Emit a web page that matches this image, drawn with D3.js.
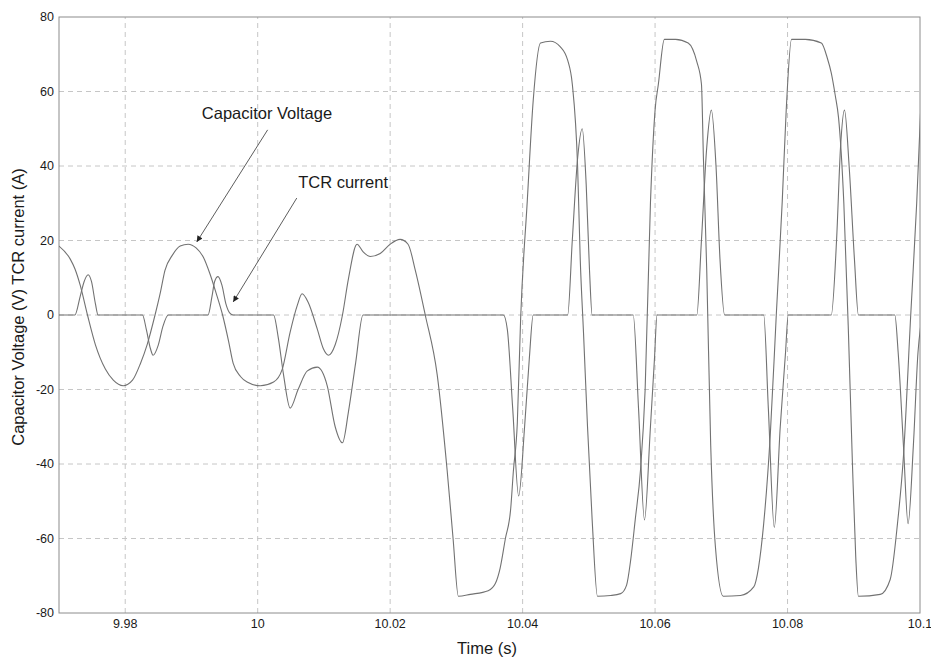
<!DOCTYPE html>
<meta charset="utf-8">
<head>
<style>
 body { margin: 0; background: #fff; }
 svg text { font-family: "Liberation Sans", Arial, sans-serif; fill: #1a1a1a; }
 .grid line { stroke: #c6c6c6; stroke-width: 1px; stroke-dasharray: 5,4; }
 .frame { fill: none; stroke: #8c8c8c; stroke-width: 1px; }
 .trace { fill: none; stroke: #727272; stroke-width: 1.1px; }
 .tick-label { font-size: 12.5px; }
 .axis-title { font-size: 16.5px; }
 .note { font-size: 16.5px; }
 .pointer { stroke: #333; stroke-width: 0.8px; }
</style>
</head>
<body>
<svg width="931" height="657"></svg>
<script src="https://d3js.org/d3.v7.min.js"></script>
<script>
  // capacitor voltage (V)
  var timeV = [9.9700, 9.9717, 9.9724, 9.9732, 9.9743, 9.9755, 9.9770, 9.9782, 9.9797, 9.9811,
    9.9823, 9.9833, 9.9845, 9.9853, 9.9860, 9.9871, 9.9883, 9.9895, 9.9907, 9.9918,
    9.9928, 9.9937, 9.9947, 9.9956, 9.9963, 9.9974, 9.9984, 10.0004, 10.0024, 10.0037,
    10.0049, 10.0060, 10.0067, 10.0076, 10.0090, 10.0099, 10.0107, 10.0117, 10.0128, 10.0137,
    10.0150, 10.0159, 10.0170, 10.0185, 10.0200, 10.0215, 10.0227, 10.0238, 10.0253, 10.0271,
    10.0286, 10.0295, 10.0303, 10.0321, 10.0348, 10.0359, 10.0366, 10.0374, 10.0382, 10.0386,
    10.0392, 10.0397, 10.0407, 10.0416, 10.0427, 10.0442, 10.0457, 10.0468, 10.0475, 10.0483,
    10.0487, 10.0492, 10.0498, 10.0505, 10.0513, 10.0533, 10.0548, 10.0557, 10.0563, 10.0570,
    10.0578, 10.0585, 10.0593, 10.0600, 10.0605, 10.0614, 10.0631, 10.0650, 10.0663, 10.0670,
    10.0673, 10.0678, 10.0684, 10.0691, 10.0703, 10.0729, 10.0749, 10.0756, 10.0764, 10.0774,
    10.0783, 10.0792, 10.0798, 10.0806, 10.0827, 10.0851, 10.0860, 10.0866, 10.0872, 10.0877,
    10.0885, 10.0892, 10.0898, 10.0903, 10.0907, 10.0940, 10.0955, 10.0966, 10.0975, 10.0986,
    10.0995, 10.1001];
  var voltage = [18.5, 15, 12.4, 8, 0, -8, -14.5, -17.5, -19, -17.5,
    -13, -8, 0, 6, 12, 16, 18.5, 19, 18, 15.5,
    11, 6, 0, -7, -13, -16.5, -18, -19, -18, -14.6,
    -4.6, 2.7, 5.7, 3.5, -3.8, -9, -10.8, -8, 0, 9.7,
    19, 17, 15.7, 16.5, 19, 20.3, 19, 12, 0, -16,
    -41.6, -60, -75.5, -75, -74, -72, -68, -60, -52, -42,
    -29, -1, 30.5, 57.6, 73, 73.5, 72, 68.4, 62, 40,
    15, -5, -30, -55, -75.5, -75.3, -74.8, -72.5, -66, -55,
    -41.6, -20, 30, 55, 62, 74, 74, 73, 68, 62,
    42, 12, -35, -62, -75.5, -75.3, -73, -68, -56, -32,
    0, 30.5, 55, 74, 74, 73, 69, 65, 59, 53,
    30, -5, -40, -65, -75.5, -75, -71, -56, -38, 0,
    30, 55];

  // TCR current (A)
  var timeI = [9.9700, 9.9724, 9.9732, 9.9738, 9.9744, 9.9749, 9.9755, 9.9759,
    9.9826, 9.9832, 9.9838, 9.9842, 9.9850, 9.9857, 9.9865,
    9.9925, 9.9931, 9.9935, 9.9940, 9.9946, 9.9952, 9.9958, 9.9963,
    10.0024, 10.0031, 10.0039, 10.0049, 10.0061, 10.0075, 10.0090, 10.0105, 10.0117, 10.0128,
    10.0137, 10.0148, 10.0159,
    10.0371, 10.0377, 10.0385, 10.0394, 10.0403, 10.0410, 10.0416,
    10.0468, 10.0475, 10.0483, 10.0490, 10.0496, 10.0501, 10.0505,
    10.0567, 10.0575, 10.0584, 10.0593, 10.0599, 10.0603,
    10.0663, 10.0670, 10.0678, 10.0685, 10.0692, 10.0698, 10.0705,
    10.0764, 10.0771, 10.0780, 10.0789, 10.0797, 10.0801,
    10.0866, 10.0874, 10.0880, 10.0886, 10.0893, 10.0901, 10.0907,
    10.0962, 10.0967, 10.0975, 10.0982, 10.0990, 10.0997, 10.1001];
  var current = [0, 0, 5, 9, 10.8, 9, 3, 0,
    0, -4, -9, -10.8, -8, -3, 0,
    0, 5, 9, 10.3, 8, 3, 0.5, 0,
    0, -6, -16, -25, -20, -15, -14, -19, -30, -34.3,
    -26, -12.7, 0,
    0, -4, -25, -48.6, -30, -12, 0,
    0, 20, 42, 50, 35, 12, 0,
    0, -25, -55, -30, -12, 0,
    0, 20, 45, 55, 40, 15, 0,
    0, -25, -57, -30, -10, 0,
    0, 20, 45, 55, 40, 15, 0,
    0, -10, -35, -56, -35, -10, -3];

  var xTicks = [9.98, 10, 10.02, 10.04, 10.06, 10.08, 10.1];
  var yTicks = [-80, -60, -40, -20, 0, 20, 40, 60, 80];

  var svg = d3.select('svg');
  var margin = { top: 17, left: 59, bottom: 44, right: 11 };
  var width = +svg.attr('width');
  var height = +svg.attr('height');

  var x = d3.scaleLinear().domain([9.97, 10.1]).range([margin.left, width - margin.right]);
  var y = d3.scaleLinear().domain([-80, 80]).range([height - margin.bottom, margin.top]);

  svg.append('defs').append('clipPath').attr('id', 'plotclip')
    .append('rect')
      .attr('x', x.range()[0]).attr('y', y.range()[1])
      .attr('width', x.range()[1] - x.range()[0])
      .attr('height', y.range()[0] - y.range()[1]);

  svg.select('defs').append('marker')
      .attr('id', 'head')
      .attr('viewBox', '0 0 10 10')
      .attr('refX', 10).attr('refY', 5)
      .attr('markerWidth', 9).attr('markerHeight', 6)
      .attr('markerUnits', 'userSpaceOnUse')
      .attr('orient', 'auto')
    .append('path')
      .attr('d', 'M0,0L10,5L0,10z')
      .attr('fill', '#222');

  // dashed grid
  var grid = svg.append('g').attr('class', 'grid');
  grid.selectAll('.gx').data(xTicks.filter(function(d) { return d < 10.1; }))
    .enter().append('line')
      .attr('x1', function(d) { return x(d); }).attr('x2', function(d) { return x(d); })
      .attr('y1', y(-80)).attr('y2', y(80));
  grid.selectAll('.gy').data(yTicks.filter(function(d) { return Math.abs(d) < 80; }))
    .enter().append('line')
      .attr('x1', x(9.97)).attr('x2', x(10.1))
      .attr('y1', function(d) { return y(d); }).attr('y2', function(d) { return y(d); });

  svg.append('rect').attr('class', 'frame')
    .attr('x', x(9.97)).attr('y', y(80))
    .attr('width', x(10.1) - x(9.97)).attr('height', y(-80) - y(80));

  // tick labels
  svg.append('g').selectAll('text').data(yTicks).enter().append('text')
    .attr('class', 'tick-label')
    .attr('x', x(9.97) - 5)
    .attr('y', function(d) { return y(d); })
    .attr('dy', '0.35em')
    .attr('text-anchor', 'end')
    .text(function(d) { return String(d); });

  svg.append('g').selectAll('text').data(xTicks).enter().append('text')
    .attr('class', 'tick-label')
    .attr('x', function(d) { return x(d); })
    .attr('y', y(-80) + 15)
    .attr('text-anchor', 'middle')
    .text(function(d) { return String(d); });

  svg.append('text').attr('class', 'axis-title')
    .attr('x', 487).attr('y', 654)
    .attr('text-anchor', 'middle')
    .text('Time (s)');

  svg.append('text').attr('class', 'axis-title')
    .attr('transform', 'translate(24,307) rotate(-90)')
    .attr('text-anchor', 'middle')
    .text('Capacitor Voltage (V) TCR current (A)');

  // traces
  var line = d3.line()
    .x(function(d) { return x(d[0]); })
    .y(function(d) { return y(d[1]); })
    .curve(d3.curveMonotoneX);

  var plot = svg.append('g').attr('clip-path', 'url(#plotclip)');
  plot.append('path').attr('class', 'trace')
    .attr('d', line(d3.zip(timeI, current)));
  plot.append('path').attr('class', 'trace')
    .attr('d', line(d3.zip(timeV, voltage)));

  // annotations
  var notes = [
    { label: 'Capacitor Voltage', t: 10.0014, v: 54.2, from: [10.0015, 49.7], to: [9.9908, 19.6] },
    { label: 'TCR current', t: 10.0129, v: 35.7, from: [10.0059, 31.4], to: [9.9963, 3.5] }
  ];
  notes.forEach(function(n) {
    svg.append('text').attr('class', 'note')
      .attr('x', x(n.t)).attr('y', y(n.v))
      .attr('dy', '0.35em')
      .attr('text-anchor', 'middle')
      .text(n.label);
    svg.append('line').attr('class', 'pointer')
      .attr('x1', x(n.from[0])).attr('y1', y(n.from[1]))
      .attr('x2', x(n.to[0])).attr('y2', y(n.to[1]))
      .attr('marker-end', 'url(#head)');
  });
</script>
</body>
</html>
